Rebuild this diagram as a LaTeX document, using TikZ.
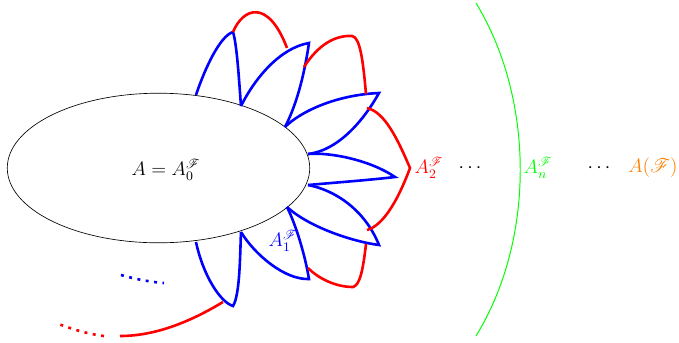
\documentclass[tikz,border=0pt]{standalone}
\usepackage{mathrsfs}
\usetikzlibrary{shapes.geometric}

\tikzset{
  petal/.style={draw=blue, line width=1.6pt},
  hull/.style={draw=red, line width=1.6pt},
  trail/.style={line width=1.6pt, dash pattern=on 1.8pt off 3.4pt},
  limit/.style={draw=green, line width=0.6pt},
  lab/.style={inner sep=1pt, font=\large}
}

\begin{document}
\begin{tikzpicture}[x=0.615pt,y=-0.615pt]
        \useasboundingbox (0,0) rectangle (679,342);

        \node[ellipse, draw, minimum width=186pt, minimum height=92pt, inner sep=0pt] (base) at (158.5,168) {};
        \node[lab] (A0) at (166,170) {$A = A_0^{\mathscr{F}}$};

        % first step: blue petals on the rim
        \draw[petal] (196,95) .. controls (205,68) and (220,36) .. (233,32)
                              .. controls (237,45) and (239,80) .. (241,106);
        \draw[petal] (241,106) .. controls (255,78) and (280,48) .. (309,43)
                               .. controls (305,70) and (298,102) .. (285,127);
        \draw[petal] (285,127) .. controls (300,112) and (335,95) .. (379,93)
                               .. controls (365,118) and (340,150) .. (308,154);
        \draw[petal] (308,154) .. controls (330,152) and (370,160) .. (395,177)
                               .. controls (370,180) and (330,183) .. (308,185);
        \draw[petal] (308,185) .. controls (335,190) and (365,210) .. (379,245)
                               .. controls (355,242) and (310,228) .. (287,207);
        \draw[petal] (287,207) .. controls (296,225) and (305,255) .. (309,279)
                               .. controls (285,280) and (255,255) .. (241,232);
        \draw[petal] (241,232) .. controls (240,255) and (240,295) .. (233,306)
                               .. controls (220,302) and (203,275) .. (196,242);
        \draw[trail, blue] (121,275) .. controls (135,279) and (150,282) .. (164,283);

        % second step: red arcs
        \draw[hull] (233,32) .. controls (243,8) and (268,-2) .. (287,48);
        \draw[hull] (304,67) .. controls (318,45) and (335,35) .. (352,36)
                             .. controls (360,37) and (363,60) .. (366,94);
        \draw[hull] (367,108) .. controls (385,112) and (398,140) .. (410,168)
                              .. controls (400,195) and (385,225) .. (367,230);
        \draw[hull] (366,244) .. controls (363,270) and (360,285) .. (353,287)
                              .. controls (335,287) and (318,278) .. (308,268);
        \draw[hull] (223,302) .. controls (190,322) and (155,336) .. (120,336);
        \draw[trail, red] (104,336) .. controls (88,334) and (75,330) .. (60,324.5);

        \draw[limit] (476,3) .. controls (535,100) and (535,240) .. (476,336);

        \node[lab, text=blue] (A1) at (283,241) {$A_1^{\mathscr{F}}$};
        \node[lab, text=red] (A2) at (429,168) {$A_2^{\mathscr{F}}$};
        \node[lab] (dotsa) at (470,168) {$\cdots$};
        \node[lab, text=green] (An) at (538,168) {$A_n^{\mathscr{F}}$};
        \node[lab] (dotsb) at (599,168) {$\cdots$};
        \node[lab, text=orange] (AF) at (653,168) {$A(\mathscr{F})$};
    \end{tikzpicture}
\end{document}
